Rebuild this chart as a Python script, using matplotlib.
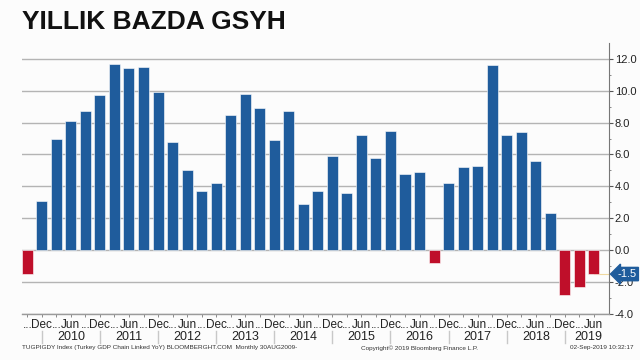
import numpy as np
import matplotlib
matplotlib.use("Agg")
from matplotlib import pyplot as plt
from matplotlib import transforms

# quarterly YoY GDP growth, Q3 2009 .. Q2 2019
values = [-1.5, 3.1, 7.0, 8.1, 8.7, 9.7, 11.7, 11.4, 11.5, 9.9,
          6.8, 5.0, 3.7, 4.2, 8.5, 9.8, 8.9, 6.9, 8.7, 2.9,
          3.7, 5.9, 3.6, 7.2, 5.8, 7.5, 4.8, 4.9, -0.8, 4.2,
          5.2, 5.3, 11.6, 7.2, 7.4, 5.6, 2.3, -2.8, -2.3, -1.5]
monthLabels = ["...", "Dec", "...", "Jun"] * 10
years = ["2010", "2011", "2012", "2013", "2014", "2015", "2016", "2017", "2018", "2019"]
yTicks = [-4, -2, 0, 2, 4, 6, 8, 10, 12]
lastValue = values[-1]

blue = "#1f5c9c"
red = "#bf0f2a"
font = "Liberation Sans"

fig = plt.figure(figsize=(6.4, 3.6), dpi=100, facecolor="#fcfcfc")
ax = fig.add_axes([0.034, 0.128, 0.918, 0.753])
ax.set_facecolor("#fcfcfc")

x = np.arange(len(values))
colors = [blue if v >= 0 else red for v in values]
ax.bar(x, values, width=0.76, color=colors, edgecolor="white", linewidth=0.4, zorder=3)

ax.set_xlim(-0.38, 40.06)
ax.set_ylim(-4, 13)

# grid
for t in yTicks:
    ax.axhline(t, color="#b4b4b4", linewidth=1.0, zorder=1)

# right axis
ax.yaxis.tick_right()
ax.set_yticks(yTicks)
ax.set_yticklabels(["%.1f" % t for t in yTicks], fontfamily=font)
ax.set_yticks(np.arange(-4, 13, 1), minor=True)
ax.tick_params(axis="y", which="major", length=3, width=0.8, color="#555555",
               labelsize=8, pad=1, labelcolor="#222222")
ax.tick_params(axis="y", which="minor", length=1.5, width=0.6, color="#777777")

for s in ["top", "left"]:
    ax.spines[s].set_visible(False)
ax.spines["right"].set_color("#777777")
ax.spines["right"].set_linewidth(0.8)
ax.spines["bottom"].set_color("#9a9a9a")
ax.spines["bottom"].set_linewidth(1.0)

# month labels
ax.set_xticks(x)
ax.set_xticklabels(monthLabels, fontfamily=font)
ax.tick_params(axis="x", length=2, width=0.6, color="#777777", labelsize=8.5,
               pad=2, labelcolor="#222222")

# year labels and separators
trans = transforms.blended_transform_factory(ax.transData, fig.transFigure)
sepY = 1 - 331 / 360
sepY2 = 1 - 343 / 360
for i, yr in enumerate(years):
    sep = 1 + 4 * i
    if i < len(years) - 1:
        xc = sep + 2
    else:
        xc = sep + 1.6
    ax.text(xc, 1 - 337 / 360, yr, transform=trans, ha="center", va="center",
            fontsize=9, color="#222222", fontfamily=font)
    line = plt.Line2D([sep, sep], [sepY, sepY2], transform=trans, color="#c8c8c8",
                      linewidth=1.0, clip_on=False)
    fig.add_artist(line)

# last value tag
ax.plot([x[-1], 40.06], [lastValue, lastValue], color="#f0d9a0", linewidth=0.8, zorder=2)
ax.annotate("%.1f" % lastValue, xy=(1.0, lastValue),
            xycoords=transforms.blended_transform_factory(ax.transAxes, ax.transData),
            xytext=(6, 0), textcoords="offset points", ha="left", va="center",
            fontsize=8, color="white", fontfamily=font,
            bbox=dict(boxstyle="larrow,pad=0.15", facecolor=blue, edgecolor=blue))

# title
fig.text(0.034, 1 - 22 / 360, "YILLIK BAZDA GSYH", fontsize=19, fontweight="bold",
         ha="left", va="center", color="#111111", fontfamily=font)

# footer
fig.text(0.034, 1 - 348 / 360, "TUGPIGDY Index (Turkey GDP Chain Linked YoY) BLOOMBERGHT.COM  Monthly 30AUG2009-",
         fontsize=4.6, ha="left", va="center", color="#333333", fontfamily=font)
fig.text(0.655, 1 - 348 / 360, "Copyright\u00a9 2019 Bloomberg Finance L.P.",
         fontsize=4.6, ha="center", va="center", color="#333333", fontfamily=font)
fig.text(0.99, 1 - 348 / 360, "02-Sep-2019 10:32:17",
         fontsize=4.6, ha="right", va="center", color="#333333", fontfamily=font)

fig.savefig("out.png", dpi=100, facecolor=fig.get_facecolor())
